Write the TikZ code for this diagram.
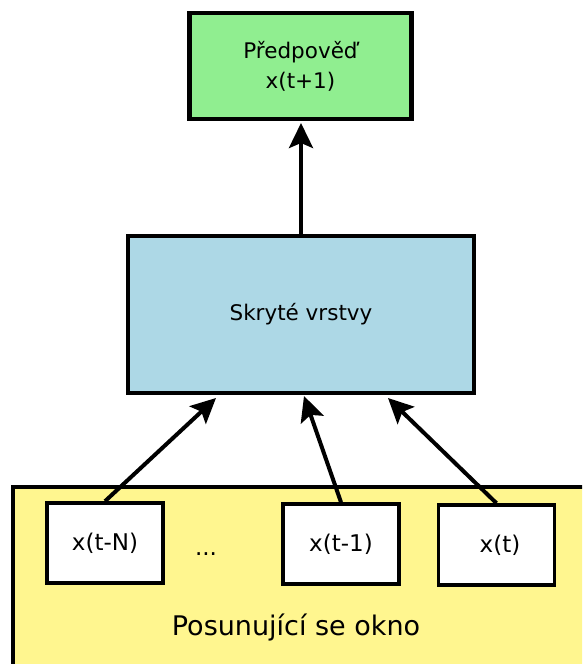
\documentclass[tikz,border=0pt]{standalone}
\usepackage{fontspec}
\setmainfont{DejaVu Sans}
\usetikzlibrary{arrows.meta}
\definecolor{predgreen}{HTML}{90EE90}
\definecolor{hidblue}{HTML}{ADD8E6}
\definecolor{winyellow}{HTML}{FFF68F}
\begin{document}
\begin{tikzpicture}[x=1pt,y=-1pt,
  box/.style={draw=black, line width=3.5pt, inner sep=0pt, align=center,
    font=\fontsize{21.5}{30}\selectfont},
  inbox/.style={box, fill=white, minimum width=116pt, minimum height=80pt,
    font=\fontsize{23}{30}\selectfont},
  arr/.style={line width=4pt, -{Stealth[length=25pt,width=24pt,inset=5pt]}}]
\clip (0,0) rectangle (582,664);
\fill[white] (0,0) rectangle (582,664);
% sliding window
\node[box, fill=winyellow, anchor=north west, minimum width=600pt, minimum height=200pt] (win) at (11,485) {};
\node[font=\fontsize{27}{30}\selectfont] (wintext) at (296,628) {Posunující se okno};
% output
\node[box, fill=predgreen, line width=4.5pt, minimum width=222pt, minimum height=106pt] (pred) at (300.5,66) {Předpověď\\x(t+1)};
% hidden layers
\node[box, fill=hidblue, minimum width=346pt, minimum height=157pt] (hid) at (301,314.5) {Skryté vrstvy};
% inputs
\node[inbox] (tN) at (105,543) {x(t-N)};
\node[inbox] (t1) at (341,544) {x(t-1)};
\node[inbox] (t0) at (496.5,545) {\hspace*{7pt}x(t)};
\node[font=\fontsize{23}{30}\selectfont, anchor=base] (dots) at (206,555) {...};
% arrow targets
\coordinate (top) at (301,123);
\coordinate (h1) at (216,398);
\coordinate (h2) at (304,396);
\coordinate (h3) at (388,398);
\draw[arr] (hid.north) -- (top);
\draw[arr] (tN.north) -- (h1);
\draw[arr] (t1.north) -- (h2);
\draw[arr] (t0.north) -- (h3);
\end{tikzpicture}
\end{document}
